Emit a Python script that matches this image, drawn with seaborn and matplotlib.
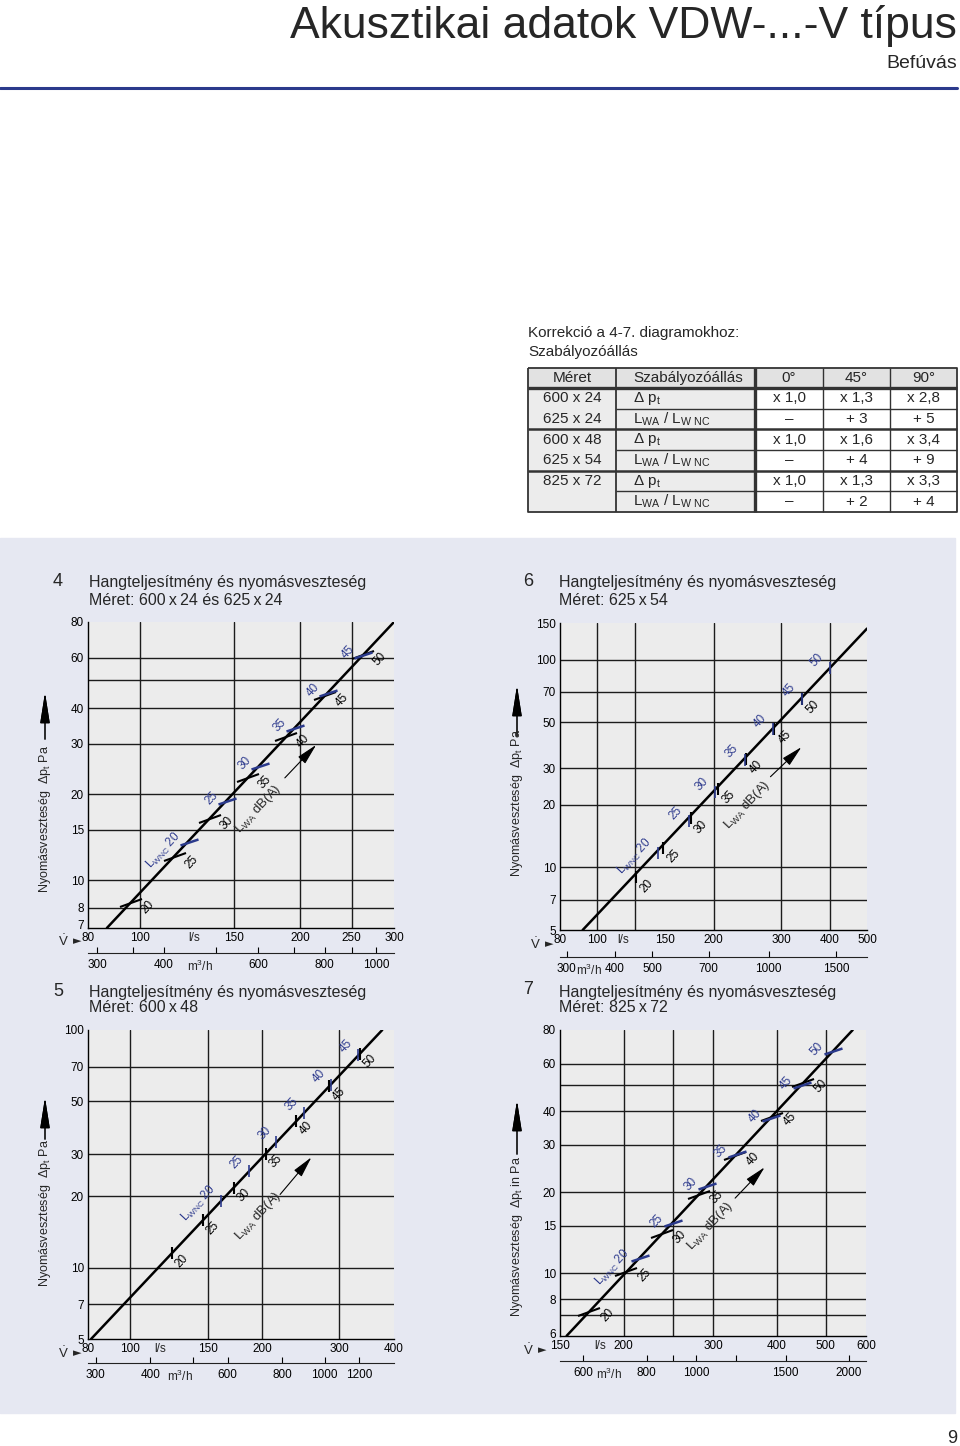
import matplotlib

matplotlib.use("Agg")

import matplotlib.pyplot as plt
import seaborn as sns
from matplotlib.lines import Line2D
from matplotlib.markers import MarkerStyle
from matplotlib.patches import Rectangle
from matplotlib.ticker import FixedLocator, NullFormatter, NullLocator
from matplotlib.transforms import Affine2D

sns.set_theme(style="white")
plt.rcParams["font.family"] = ["Liberation Sans", "DejaVu Sans"]
plt.rcParams["mathtext.fontset"] = "custom"
plt.rcParams["mathtext.rm"] = "Liberation Sans"
plt.rcParams["mathtext.it"] = "Liberation Sans:italic"
plt.rcParams["mathtext.bf"] = "Liberation Sans:bold"

# ---------------- page text ----------------
TITLE = "Akusztikai adatok VDW-...-V típus"
SUBTITLE = "Befúvás"
PAGE_NO = "9"

# ---------------- correction table ----------------
TABLE_NOTE = ["Korrekció a 4-7. diagramokhoz:", "Szabályozóállás"]
TABLE_HEADER = ["Méret", "Szabályozóállás", "0°", "45°", "90°"]
TABLE_SIZES = ["600 x 24", "625 x 24", "600 x 48", "625 x 54", "825 x 72", ""]
TABLE_QTY = [r"$\Delta$ p$_\mathrm{t}$", r"L$_\mathrm{WA}$ / L$_\mathrm{W\ NC}$"] * 3
TABLE_VALUES = [
    ["x 1,0", "x 1,3", "x 2,8"],
    ["–", "+ 3", "+ 5"],
    ["x 1,0", "x 1,6", "x 3,4"],
    ["–", "+ 4", "+ 9"],
    ["x 1,0", "x 1,3", "x 3,3"],
    ["–", "+ 2", "+ 4"],
]

PANEL_TITLE = "Hangteljesítmény és nyomásveszteség"

# ---------------- diagram 4: 600x24 / 625x24 ----------------
D4_SIZE = "Méret: 600\u2009x\u200924 és 625\u2009x\u200924"
D4_XLIM = [80, 300]
D4_YLIM = [6.8, 80]
D4_V_TICKS = [80, 100, 150, 200, 250, 300]
D4_DP_TICKS = [7, 8, 10, 15, 20, 30, 40, 60, 80]
D4_M3H_TICKS = [300, 400, 600, 800, 1000]
D4_M3H_MINOR = [350, 500, 700, 900]
D4_GRID_V = [100, 150, 200, 250]
D4_GRID_DP = [8, 10, 15, 20, 30, 40, 50, 60]
D4_LINE_V = [86.8, 300]
D4_LINE_DP = [6.8, 80]
D4_LWA = [20, 25, 30, 35, 40, 45, 50]
D4_LWA_V = [96.5, 116.4, 135.4, 159.7, 188.5, 222.6, 262.8]
D4_LWA_DP = [8.3, 12.0, 16.3, 22.7, 31.6, 44.0, 61.4]
D4_LWNC = [20, 25, 30, 35, 40, 45]
D4_LWNC_V = [123.9, 146.0, 168.1, 195.5, 225.8, 262.8]
D4_LWNC_DP = [13.6, 18.9, 25.1, 34.0, 45.3, 61.4]

# ---------------- diagram 5: 600x48 ----------------
D5_SIZE = "Méret: 600\u2009x\u200948"
D5_XLIM = [80, 400]
D5_YLIM = [5, 100]
D5_V_TICKS = [80, 100, 150, 200, 300, 400]
D5_DP_TICKS = [5, 7, 10, 20, 30, 50, 70, 100]
D5_M3H_TICKS = [300, 400, 600, 800, 1000, 1200]
D5_M3H_MINOR = [500]
D5_GRID_V = [100, 150, 200, 300]
D5_GRID_DP = [7, 10, 20, 30, 50, 70]
D5_LINE_V = [81.3, 376]
D5_LINE_DP = [5, 100]
D5_LWA = [20, 25, 30, 35, 40, 45, 50]
D5_LWA_V = [124.7, 146.6, 172.3, 203.8, 239.5, 284.6, 334.3]
D5_LWA_DP = [11.5, 15.8, 21.7, 30.2, 41.4, 58.0, 79.5]
D5_LWNC = [20, 25, 30, 35, 40, 45]
D5_LWNC_V = [161.4, 186.6, 215.6, 248.9, 286.5, 331.4]
D5_LWNC_DP = [19.1, 25.4, 33.7, 44.6, 58.7, 78.1]

# ---------------- diagram 6: 625x54 ----------------
D6_SIZE = "Méret: 625\u2009x\u200954"
D6_XLIM = [80, 500]
D6_YLIM = [5, 150]
D6_V_TICKS = [80, 100, 150, 200, 300, 400, 500]
D6_DP_TICKS = [5, 7, 10, 20, 30, 50, 70, 100, 150]
D6_M3H_TICKS = [300, 400, 500, 700, 1000, 1500]
D6_M3H_MINOR = []
D6_GRID_V = [100, 125, 200, 300, 400]
D6_GRID_DP = [7, 10, 20, 30, 50, 70, 100]
D6_LINE_V = [91.6, 500]
D6_LINE_DP = [5, 141]
D6_LWA = [20, 25, 30, 35, 40, 45, 50]
D6_LWA_V = [126.0, 148.3, 174.7, 206.0, 242.7, 287.3, 339.0]
D6_LWA_DP = [8.95, 12.4, 17.2, 23.9, 33.2, 46.6, 64.8]
D6_LWNC = [20, 25, 30, 35, 40, 45, 50]
D6_LWNC_V = [144.0, 172.3, 201.9, 242.0, 286.0, 339.0, 401.7]
D6_LWNC_DP = [11.7, 16.7, 23.0, 33.0, 46.1, 64.8, 91.0]

# ---------------- diagram 7: 825x72 ----------------
D7_SIZE = "Méret: 825\u2009x\u200972"
D7_XLIM = [150, 600]
D7_YLIM = [5.85, 80]
D7_V_TICKS = [150, 200, 300, 400, 500, 600]
D7_DP_TICKS = [6, 8, 10, 15, 20, 30, 40, 60, 80]
D7_M3H_TICKS = [600, 800, 1000, 1500, 2000]
D7_M3H_MINOR = [900, 1200]
D7_GRID_V = [200, 250, 300, 400, 500]
D7_GRID_DP = [7, 8, 10, 15, 20, 30, 40, 50, 60]
D7_LINE_V = [154.6, 564.9]
D7_LINE_DP = [5.86, 80]
D7_LWA = [20, 25, 30, 35, 40, 45, 50]
D7_LWA_V = [171.3, 202.5, 238.3, 281.6, 331.2, 391.2, 451.5]
D7_LWA_DP = [7.18, 10.1, 14.0, 19.6, 27.2, 38.1, 50.9]
D7_LWNC = [20, 25, 30, 35, 40, 45, 50]
D7_LWNC_V = [215.1, 250.2, 291.3, 334.8, 389.4, 448.1, 517.0]
D7_LWNC_DP = [11.4, 15.4, 21.0, 27.8, 37.7, 50.1, 66.9]

# ---------------- styling ----------------
W, H = 960, 1446
NAVY = "#2b3a8c"
LABEL_BLUE = "#2e3b8e"
PANEL_BG = "#e6e8f2"
PLOT_BG = "#ececec"
GRID = "#1c1c1c"
FS_TICK = 8.5


def fx(x):
    return x / W


def fy(y):
    return 1 - y / H


fig = plt.figure(figsize=(W / 100, H / 100), dpi=100)

# page header
fig.text(fx(957), fy(38), TITLE, ha="right", va="baseline", fontsize=32)
fig.text(fx(957), fy(68), SUBTITLE, ha="right", va="baseline", fontsize=14)
fig.add_artist(Line2D([0, fx(957)], [fy(88), fy(88)], color=NAVY, lw=2.2))
fig.text(fx(957), fy(1443), PAGE_NO, ha="right", va="baseline", fontsize=13)

# grey-blue band behind the diagrams
fig.add_artist(Rectangle((0, fy(1413)), fx(955), (1413 - 538) / H,
                         transform=fig.transFigure, color=PANEL_BG, zorder=0))

# ---------------- correction table ----------------
fig.text(fx(528), fy(333), TABLE_NOTE[0], va="center", fontsize=11)
fig.text(fx(528), fy(352), TABLE_NOTE[1], va="center", fontsize=11)

cols = [528, 616, 755, 823, 890, 957]
rows = [368, 388, 409, 429, 450, 471, 491, 512]
tax = fig.add_axes([fx(528), fy(512), (957 - 528) / W, (512 - 368) / H])
tax.set_xlim(528, 957)
tax.set_ylim(512, 368)
tax.axis("off")
tax.add_patch(Rectangle((cols[0], rows[0]), cols[-1] - cols[0], rows[1] - rows[0], color="#e2e2e2", lw=0))
tax.add_patch(Rectangle((cols[0], rows[1]), cols[2] - cols[0], rows[-1] - rows[1], color="#ececec", lw=0))
line_kw = dict(color="#333333", solid_capstyle="butt", clip_on=False)
tax.plot([cols[0], cols[-1], cols[-1], cols[0], cols[0]],
         [rows[0], rows[0], rows[-1], rows[-1], rows[0]], lw=1.3, **line_kw)
tax.plot([cols[0], cols[-1]], [rows[1], rows[1]], lw=2.4, **line_kw)
for r in (rows[3], rows[5]):
    tax.plot([cols[0], cols[-1]], [r, r], lw=1.8, **line_kw)
for r in (rows[2], rows[4], rows[6]):
    tax.plot([cols[1], cols[-1]], [r, r], lw=1.0, **line_kw)
tax.plot([cols[1], cols[1]], [rows[0], rows[-1]], lw=1.3, **line_kw)
tax.plot([cols[2], cols[2]], [rows[0], rows[-1]], lw=2.4, **line_kw)
for c in cols[3:5]:
    tax.plot([c, c], [rows[0], rows[-1]], lw=1.0, **line_kw)

hy = (rows[0] + rows[1]) / 2
for j, head in enumerate(TABLE_HEADER):
    if j == 1:
        tax.text(cols[1] + 17, hy, head, ha="left", va="center", fontsize=11)
    else:
        tax.text((cols[j] + cols[j + 1]) / 2, hy, head, ha="center", va="center", fontsize=11)
for i in range(len(TABLE_SIZES)):
    cy = (rows[i + 1] + rows[i + 2]) / 2
    tax.text((cols[0] + cols[1]) / 2, cy, TABLE_SIZES[i], ha="center", va="center", fontsize=11)
    tax.text(cols[1] + 17, cy, TABLE_QTY[i], ha="left", va="center", fontsize=11)
    for k, val in enumerate(TABLE_VALUES[i]):
        tax.text((cols[k + 2] + cols[k + 3]) / 2, cy, val, ha="center", va="center", fontsize=11)


# ---------------- diagrams ----------------
def tick_marker(style):
    if style == "slash":
        return MarkerStyle("_", transform=Affine2D().rotate_deg(19))
    return MarkerStyle("|")


def draw_panel(num, size_text, d, lay):
    left, top, right, bottom = lay["box"]
    ax = fig.add_axes([fx(left), fy(bottom), (right - left) / W, (bottom - top) / H])
    ax.set_facecolor(PLOT_BG)
    ax.set_xscale("log")
    ax.set_yscale("log")
    ax.set_xlim(d["xlim"])
    ax.set_ylim(d["ylim"])

    for v in d["grid_v"]:
        ax.axvline(v, color=GRID, lw=1.0, zorder=1)
    for p in d["grid_dp"]:
        ax.axhline(p, color=GRID, lw=1.0, zorder=1)

    sns.lineplot(x=d["line_v"], y=d["line_dp"], color="black", linewidth=1.8, ax=ax, zorder=3)

    big = lay["marker"] == "slash"
    ax.plot(d["lwa_v"], d["lwa_dp"], ls="none", marker=tick_marker(lay["marker"]),
            markersize=16 if big else 8, mew=1.5, color="black", zorder=4)
    ax.plot(d["lwnc_v"], d["lwnc_dp"], ls="none", marker=tick_marker(lay["marker"]),
            markersize=13 if big else 8, mew=1.8 if big else 1.2, color=NAVY, zorder=4)

    for lab, v, p in zip(d["lwa"], d["lwa_v"], d["lwa_dp"]):
        ax.annotate(str(lab), (v, p), xytext=lay["off_black"], textcoords="offset points",
                    rotation=47, rotation_mode="anchor", ha="center", va="center",
                    fontsize=FS_TICK, color="black", zorder=5)
    bx, by = lay["off_blue"]
    for i, (lab, v, p) in enumerate(zip(d["lwnc"], d["lwnc_v"], d["lwnc_dp"])):
        txt = r"L$_\mathrm{WNC}$ " + str(lab) if i == 0 else str(lab)
        ax.annotate(txt, (v, p), xytext=(bx + 3.2, by + 3.4), textcoords="offset points",
                    rotation=47, rotation_mode="anchor", ha="right", va="center",
                    fontsize=FS_TICK, color=LABEL_BLUE, zorder=5)

    # L_WA dB(A) note with arrow
    ax.text(*lay["lwa_text"], r"L$_\mathrm{WA}$ dB(A)", transform=ax.transAxes,
            rotation=47, ha="center", va="center", fontsize=9.5, zorder=5)
    ax.annotate("", xy=lay["lwa_arrow"][1], xytext=lay["lwa_arrow"][0],
                xycoords="axes fraction", textcoords="axes fraction",
                arrowprops=dict(arrowstyle="-|>,head_length=1.3,head_width=0.3",
                                color="black", lw=0.8, mutation_scale=10))

    # axes
    for side in ("top", "right"):
        ax.spines[side].set_visible(False)
    for side in ("left", "bottom"):
        ax.spines[side].set_color("black")
        ax.spines[side].set_linewidth(1.0)
    ax.set_xticks(d["v_ticks"], labels=[str(v) for v in d["v_ticks"]])
    ax.set_yticks(d["dp_ticks"], labels=[str(v) for v in d["dp_ticks"]])
    ax.xaxis.set_minor_locator(NullLocator())
    ax.yaxis.set_minor_locator(NullLocator())
    ax.tick_params(length=0, pad=3, labelsize=FS_TICK, colors="black")
    ax.annotate("l/s", xy=(lay["ls_at"], 0), xycoords=("data", "axes fraction"),
                xytext=(0, -3), textcoords="offset points", ha="center", va="top", fontsize=FS_TICK)

    sec = ax.secondary_xaxis(lay["sec_loc"], functions=(lambda v: v * 3.6, lambda q: q / 3.6))
    sec.set_xticks(d["m3h_ticks"], labels=[str(v) for v in d["m3h_ticks"]])
    sec.xaxis.set_minor_locator(FixedLocator(d["m3h_minor"]))
    sec.xaxis.set_minor_formatter(NullFormatter())
    sec.spines["bottom"].set_linewidth(0.8)
    sec.spines["bottom"].set_color("#222222")
    sec.tick_params(which="both", direction="in", length=4, width=0.8, pad=4,
                    labelsize=FS_TICK, colors="black")
    ax.annotate("m$^3$/h", xy=(lay["m3h_at"], lay["sec_loc"]), xycoords=("data", "axes fraction"),
                xytext=(0, -4), textcoords="offset points", ha="center", va="top", fontsize=FS_TICK)

    # flow symbol
    vx, vy = lay["vdot"]
    ax.annotate(r"$\dot{\mathrm{V}}$", xy=(0, 0), xycoords="axes fraction", xytext=(vx, vy),
                textcoords="offset points", ha="center", va="center", fontsize=9.5)
    ax.annotate("►", xy=(0, 0), xycoords="axes fraction", xytext=(vx + 10.5, vy),
                textcoords="offset points", ha="center", va="center", fontsize=8,
                family="DejaVu Sans")

    # titles
    fig.text(fx(lay["num_at"][0]), fy(lay["num_at"][1]), num, ha="center", va="center", fontsize=13)
    fig.text(fx(lay["title_x"]), fy(lay["title_y"][0]), PANEL_TITLE, va="center", fontsize=11.5)
    fig.text(fx(lay["title_x"]), fy(lay["title_y"][1]), size_text, va="center", fontsize=11.5)

    # vertical axis caption with arrow
    yx, ystart, (a0, a1) = lay["ylab"]
    fig.text(fx(yx), fy(ystart), lay["ylab_text"], rotation=90, rotation_mode="anchor",
             ha="left", va="center", fontsize=9)
    fig.add_artist(plt.annotate("", xy=(fx(yx), fy(a1)), xytext=(fx(yx), fy(a0)),
                                xycoords="figure fraction", textcoords="figure fraction",
                                arrowprops=dict(arrowstyle="-|>,head_length=1.9,head_width=0.3",
                                                color="black", lw=0.8, mutation_scale=10)))
    return ax


def pack(xlim, ylim, v_ticks, dp_ticks, m3h, m3h_minor, gv, gdp, lv, ldp, lwa, lwa_v, lwa_dp,
         lwnc, lwnc_v, lwnc_dp):
    return dict(xlim=xlim, ylim=ylim, v_ticks=v_ticks, dp_ticks=dp_ticks, m3h_ticks=m3h,
                m3h_minor=m3h_minor, grid_v=gv, grid_dp=gdp, line_v=lv, line_dp=ldp,
                lwa=lwa, lwa_v=lwa_v, lwa_dp=lwa_dp, lwnc=lwnc, lwnc_v=lwnc_v, lwnc_dp=lwnc_dp)


YLAB = r"Nyomásveszteség  $\Delta$p$_\mathrm{t}$ Pa"
YLAB_IN = r"Nyomásveszteség  $\Delta$p$_\mathrm{t}$ in Pa"

draw_panel("4", D4_SIZE,
           pack(D4_XLIM, D4_YLIM, D4_V_TICKS, D4_DP_TICKS, D4_M3H_TICKS, D4_M3H_MINOR, D4_GRID_V,
                D4_GRID_DP, D4_LINE_V, D4_LINE_DP, D4_LWA, D4_LWA_V, D4_LWA_DP, D4_LWNC,
                D4_LWNC_V, D4_LWNC_DP),
           dict(box=(88, 622, 394, 928), marker="slash", off_black=(12, -3), off_blue=(-11, 2),
                lwa_text=(0.556, 0.388), lwa_arrow=((0.637, 0.484), (0.752, 0.605)),
                ls_at=126.4, sec_loc=-0.082, m3h_at=129.9, num_at=(58, 582), title_x=89,
                title_y=(583, 600), ylab=(45, 893, (742, 690)), ylab_text=YLAB,
                vdot=(-18, -9.5)))

draw_panel("6", D6_SIZE,
           pack(D6_XLIM, D6_YLIM, D6_V_TICKS, D6_DP_TICKS, D6_M3H_TICKS, D6_M3H_MINOR, D6_GRID_V,
                D6_GRID_DP, D6_LINE_V, D6_LINE_DP, D6_LWA, D6_LWA_V, D6_LWA_DP, D6_LWNC,
                D6_LWNC_V, D6_LWNC_DP),
           dict(box=(560, 623, 867, 930), marker="plus", off_black=(7.5, -6), off_blue=(-9.5, 6),
                lwa_text=(0.609, 0.407), lwa_arrow=((0.679, 0.493), (0.793, 0.602)),
                ls_at=116.8, sec_loc=-0.088, m3h_at=95.0, num_at=(528, 582), title_x=559,
                title_y=(583, 600), ylab=(517, 877, (739, 683)), ylab_text=YLAB,
                vdot=(-18, -10.5)))

draw_panel("5", D5_SIZE,
           pack(D5_XLIM, D5_YLIM, D5_V_TICKS, D5_DP_TICKS, D5_M3H_TICKS, D5_M3H_MINOR, D5_GRID_V,
                D5_GRID_DP, D5_LINE_V, D5_LINE_DP, D5_LWA, D5_LWA_V, D5_LWA_DP, D5_LWNC,
                D5_LWNC_V, D5_LWNC_DP),
           dict(box=(88, 1030, 394, 1339), marker="plus", off_black=(7, -5.5), off_blue=(-8.5, 6.5),
                lwa_text=(0.556, 0.399), lwa_arrow=((0.622, 0.461), (0.736, 0.595)),
                ls_at=116.8, sec_loc=-0.078, m3h_at=130.0, num_at=(58, 992), title_x=89,
                title_y=(993, 1008), ylab=(45, 1287, (1142, 1095)), ylab_text=YLAB,
                vdot=(-18, -10.5)))

draw_panel("7", D7_SIZE,
           pack(D7_XLIM, D7_YLIM, D7_V_TICKS, D7_DP_TICKS, D7_M3H_TICKS, D7_M3H_MINOR, D7_GRID_V,
                D7_GRID_DP, D7_LINE_V, D7_LINE_DP, D7_LWA, D7_LWA_V, D7_LWA_DP, D7_LWNC,
                D7_LWNC_V, D7_LWNC_DP),
           dict(box=(560, 1030, 866, 1336), marker="slash", off_black=(13, -2), off_blue=(-11.5, 1.5),
                lwa_text=(0.492, 0.36), lwa_arrow=((0.566, 0.444), (0.675, 0.558)),
                ls_at=179.8, sec_loc=-0.082, m3h_at=187.0, num_at=(528, 990), title_x=559,
                title_y=(993, 1008), ylab=(517, 1317, (1157, 1098)), ylab_text=YLAB_IN,
                vdot=(-23, -10.5)))

fig.savefig("out.png", dpi=100)
plt.close(fig)
